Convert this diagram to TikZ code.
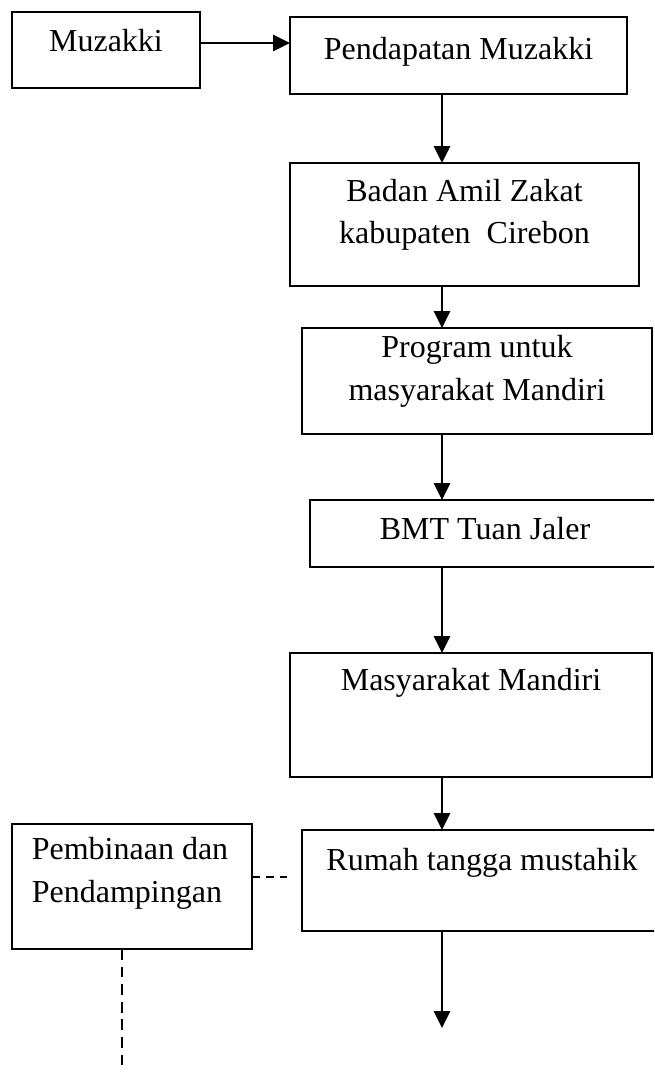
\documentclass[tikz,border=0pt]{standalone}
\usepackage{fontspec}
\setmainfont{Liberation Serif}
\usetikzlibrary{arrows.meta,positioning}

\tikzset{
  box/.style={draw, line width=1.7pt, inner sep=0pt, outer sep=0pt},
  lbl/.style={anchor=base, align=center, inner sep=0pt,
    font=\fontsize{22.76pt}{29.9pt}\selectfont},
  flow/.style={line width=1.7pt, -{Triangle[length=0.42cm, width=0.4cm]}},
  guide/.style={line width=1pt, dash pattern=on 0.2cm off 0.15cm},
}

\begin{document}
\begin{tikzpicture}[x=0.025cm, y=-0.025cm]
  \clip (0,0) rectangle (654,1075);
  \coordinate (spine) at (442,0);
  % top row
  \node[box, minimum width=4.7cm, minimum height=1.9cm] (muz) at (106,50) {};
  \node[lbl] (muztxt) at (106,52) {Muzakki};
  \node[box, minimum width=8.425cm, minimum height=1.925cm] (pend) at (458.5,55.5) {};
  \node[lbl] (pendtxt) at (458.5,60) {Pendapatan Muzakki};
  % main column
  \node[box, minimum width=8.725cm, minimum height=3.075cm] (badan) at (464.5,224.5) {};
  \node[lbl] (badantxt) at (464.5,244) {Badan Amil Zakat\\kabupaten\ \ Cirebon};
  \node[box, minimum width=8.75cm, minimum height=2.65cm] (prog) at (477,381) {};
  \node[lbl] (progtxt) at (477,400) {Program untuk\\masyarakat Mandiri};
  \node[box, minimum width=8.75cm, minimum height=1.675cm] (bmt) at (485,533.5) {};
  \node[lbl] (bmttxt) at (485,539) {BMT Tuan Jaler};
  \node[box, minimum width=9.05cm, minimum height=3.1cm] (masy) at (471,715) {};
  \node[lbl] (masytxt) at (471,690) {Masyarakat Mandiri};
  \node[box, minimum width=9.0cm, minimum height=2.525cm] (rumah) at (482,880.5) {};
  \node[lbl] (rumahtxt) at (482,870) {Rumah tangga mustahik};
  % side box
  \node[box, minimum width=6.0cm, minimum height=3.125cm] (pemb) at (132,886.5) {};
  \node[lbl, align=left] (pembtxt) at (130,902) {Pembinaan dan\\Pendampingan};
  \coordinate (tail) at (442,1028);
  \coordinate (dashend) at (287,877);
  \coordinate (dropend) at (122,1072);
  % arrows
  \draw[flow] ([yshift=0.175cm]muz.east) -- ([yshift=0.175cm]muz.east -| pend.west);
  \draw[flow] (pend.south -| spine) -- (badan.north -| spine);
  \draw[flow] (badan.south -| spine) -- (prog.north -| spine);
  \draw[flow] (prog.south -| spine) -- (bmt.north -| spine);
  \draw[flow] (bmt.south -| spine) -- (masy.north -| spine);
  \draw[flow] (masy.south -| spine) -- (rumah.north -| spine);
  \draw[flow] (rumah.south -| spine) -- (tail);
  % dashed links
  \draw[guide] (pemb.east |- dashend) -- (dashend);
  \draw[guide, dash pattern=on 0.27cm off 0.17cm] (pemb.south -| dropend) -- (dropend);
\end{tikzpicture}
\end{document}
